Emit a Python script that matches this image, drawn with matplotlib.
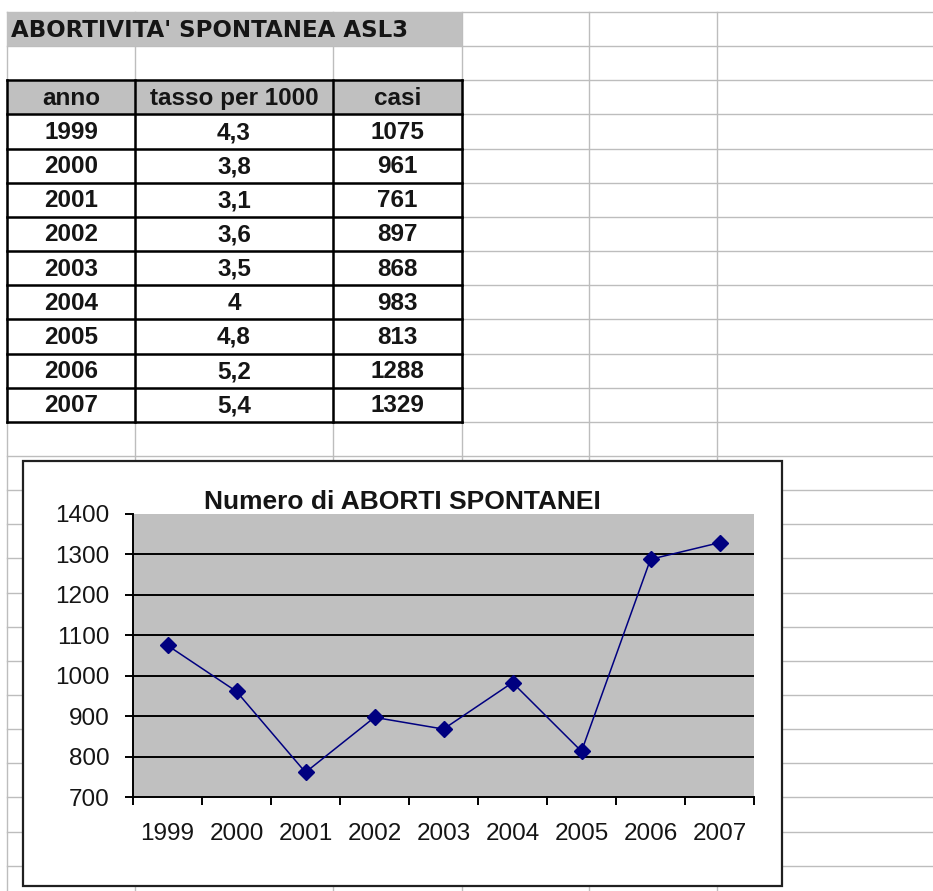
import numpy as np
import matplotlib
matplotlib.use('Agg')
from matplotlib import pyplot as plt
from matplotlib.patches import Rectangle

# dati del foglio
anni = [1999, 2000, 2001, 2002, 2003, 2004, 2005, 2006, 2007]
tasso = [4.3, 3.8, 3.1, 3.6, 3.5, 4.0, 4.8, 5.2, 5.4]
casi = [1075, 961, 761, 897, 868, 983, 813, 1288, 1329]
intestazioni = ['anno', 'tasso per 1000', 'casi']
titolo_foglio = "ABORTIVITA' SPONTANEA ASL3"
titolo_grafico = 'Numero di ABORTI SPONTANEI'
valori_y = [700, 800, 900, 1000, 1100, 1200, 1300, 1400]

W, H = 933, 891
GRIGIO = '#C0C0C0'
GRIGLIA = '#BDBDBD'
BLU = '#000080'
NERO = '#151515'

plt.rcParams['font.family'] = ['Liberation Sans', 'DejaVu Sans']

fig = plt.figure(figsize=(W / 100, H / 100), dpi=100)
base = fig.add_axes([0, 0, 1, 1])
base.set_xlim(0, W)
base.set_ylim(H, 0)
base.axis('off')

# griglia del foglio
col_x = [7, 135, 333, 462, 589, 717]
row_h = 34.15
row_y = [12 + i * row_h for i in range(26)]
for y in row_y:
    base.plot([7, W], [y, y], color=GRIGLIA, lw=1, zorder=1)
for x in col_x:
    base.plot([x, x], [12, H], color=GRIGLIA, lw=1, zorder=1)

# titolo del foglio
base.add_patch(Rectangle((7, row_y[0]), col_x[3] - 7, row_h, fc=GRIGIO, ec='none', zorder=2))
base.text(11, row_y[0] + row_h / 2 + 1, titolo_foglio, family='DejaVu Sans', fontweight='bold',
          fontsize=16.5, color=NERO, ha='left', va='center', zorder=3)

# tabella
base.add_patch(Rectangle((7, row_y[2]), col_x[3] - 7, row_h, fc=GRIGIO, ec='none', zorder=2))
centri = [(col_x[i] + col_x[i + 1]) / 2 for i in range(3)]
for j, testo in enumerate(intestazioni):
    base.text(centri[j], row_y[2] + row_h / 2 + 1, testo, fontweight='bold', fontsize=17.5,
              color=NERO, ha='center', va='center', zorder=3)
for i, (a, t, c) in enumerate(zip(anni, tasso, casi)):
    yc = row_y[3 + i] + row_h / 2 + 1
    riga = [str(a), f'{t:g}'.replace('.', ','), str(c)]
    for j, testo in enumerate(riga):
        base.text(centri[j], yc, testo, fontweight='bold', fontsize=17.5,
                  color=NERO, ha='center', va='center', zorder=3)

y_top, y_bot = row_y[2], row_y[3 + len(anni)]
for k in range(2, 4 + len(anni)):
    base.plot([7, col_x[3]], [row_y[k], row_y[k]], color='black', lw=1.8, zorder=4)
for x in col_x[:4]:
    base.plot([x, x], [y_top, y_bot], color='black', lw=1.8, zorder=4)

# riquadro del grafico
base.add_patch(Rectangle((23, 461), 759, 425, fc='white', ec='#202020', lw=1.6, zorder=5))
base.text(402, 502, titolo_grafico, fontweight='bold', fontsize=19,
          color=NERO, ha='center', va='center', zorder=6)

px0, py0, px1, py1 = 133, 514, 754, 797
ax = fig.add_axes([px0 / W, 1 - py1 / H, (px1 - px0) / W, (py1 - py0) / H])
ax.set_facecolor(GRIGIO)
x = np.arange(len(anni))
for v in valori_y[1:-1]:
    ax.axhline(v, color='black', lw=1.4, zorder=1)
ax.plot(x, casi, color=BLU, lw=1.1, marker='D', markersize=8, zorder=3)

ax.set_xlim(-0.5, len(anni) - 0.5)
ax.set_ylim(valori_y[0], valori_y[-1])
ax.set_yticks(valori_y)
ax.set_yticklabels([str(v) for v in valori_y])
ax.set_xticks(np.arange(-0.5, len(anni), 1))
ax.set_xticklabels([])
ax.set_xticks(x, minor=True)
ax.set_xticklabels([str(a) for a in anni], minor=True)

for lato in ['top', 'right']:
    ax.spines[lato].set_visible(False)
for lato in ['left', 'bottom']:
    ax.spines[lato].set_color('black')
    ax.spines[lato].set_linewidth(1.4)

ax.tick_params(axis='both', which='major', direction='out', length=6, width=1.4, color='black')
ax.tick_params(axis='x', which='minor', length=0, pad=19, labelsize=17.5, labelcolor=NERO)
ax.tick_params(axis='y', which='major', pad=11, labelsize=17.5, labelcolor=NERO)

fig.savefig('out.png', dpi=100)
